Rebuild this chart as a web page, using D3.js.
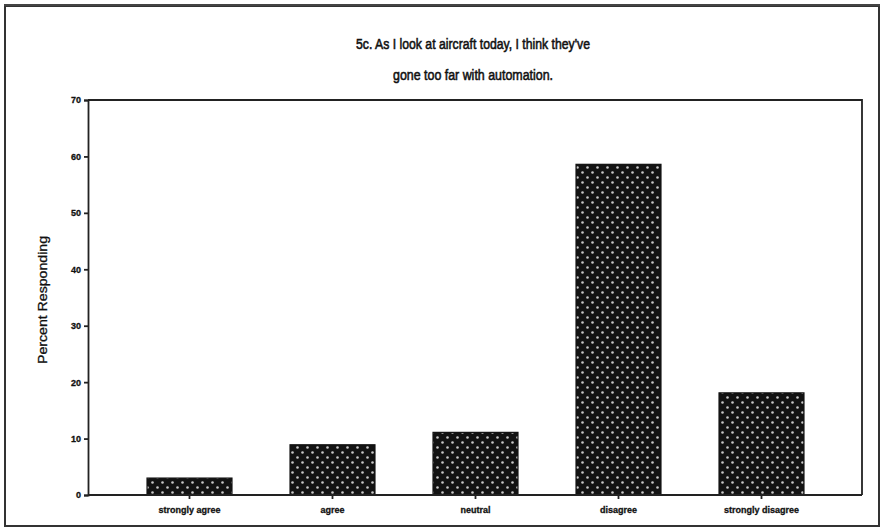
<!DOCTYPE html>
<html>
<head>
<meta charset="utf-8">
<script src="https://cdn.jsdelivr.net/npm/d3@7"></script>
<style>
  html, body { margin: 0; padding: 0; background: #fff; }
  svg { display: block; }
</style>
</head>
<body>
<svg id="chart" width="882" height="530"></svg>
<script>
const titleLines = ["5c. As I look at aircraft today, I think they've", "gone too far with automation."];
const categories = ["strongly agree", "agree", "neutral", "disagree", "strongly disagree"];
const percents = [3.0, 8.9, 11.1, 58.6, 18.1];
const yTicks = [0, 10, 20, 30, 40, 50, 60, 70];
const yLabel = "Percent Responding";

const svg = d3.select("#chart");
const plot = { left: 88, right: 862, top: 100, bottom: 495 };

// pattern for bars: black with light dots
const defs = svg.append("defs");
const pat = defs.append("pattern")
  .attr("id", "dots").attr("patternUnits", "userSpaceOnUse")
  .attr("width", 10).attr("height", 10);
pat.append("rect").attr("width", 10).attr("height", 10).attr("fill", "#131313");
pat.append("circle").attr("cx", 2.5).attr("cy", 2.5).attr("r", 1.3).attr("fill", "#c8c8c8");
pat.append("circle").attr("cx", 7.5).attr("cy", 7.5).attr("r", 1.3).attr("fill", "#c8c8c8");

// outer frame
svg.append("rect").attr("x", 5).attr("y", 6).attr("width", 874).attr("height", 520)
  .attr("fill", "none").attr("stroke", "#333").attr("stroke-width", 2);
svg.append("line").attr("x1", 4).attr("x2", 880).attr("y1", 5).attr("y2", 5)
  .attr("stroke", "#444").attr("stroke-width", 2);

// title
svg.selectAll("text.title").data(titleLines).enter().append("text")
  .attr("class", "title")
  .attr("x", 473).attr("y", (d, i) => 49 + i * 31)
  .attr("text-anchor", "middle")
  .attr("font-family", "Liberation Sans, Arial, sans-serif")
  .attr("font-size", 15.5)
  .attr("fill", "#111")
  .attr("stroke", "#111").attr("stroke-width", 0.6)
  .attr("textLength", (d, i) => i === 0 ? 234 : 160)
  .attr("lengthAdjust", "spacingAndGlyphs")
  .text(d => d);

const y = d3.scaleLinear().domain([0, 70]).range([plot.bottom, plot.top]);
const x = d3.scaleBand().domain(categories).range([118, 833]).paddingInner(0.406).paddingOuter(0.203);

// bars
svg.append("g").selectAll("rect").data(percents).enter().append("rect")
  .attr("x", (d, i) => x(categories[i]))
  .attr("y", d => y(d))
  .attr("width", x.bandwidth())
  .attr("height", d => y(0) - y(d))
  .attr("fill", "url(#dots)")
  .attr("stroke", "#111").attr("stroke-width", 1.2);

// plot frame: top and right
svg.append("path")
  .attr("d", `M${plot.left},${plot.top}H${plot.right}V${plot.bottom}`)
  .attr("fill", "none").attr("stroke", "#222").attr("stroke-width", 1.8);

// y axis
const yAxis = svg.append("g").attr("transform", `translate(${plot.left},0)`)
  .call(d3.axisLeft(y).tickValues(yTicks).tickSize(4).tickPadding(3).tickFormat(d3.format("d")));
yAxis.select(".domain").attr("stroke", "#222").attr("stroke-width", 1.8);
yAxis.selectAll(".tick line").attr("stroke", "#222").attr("stroke-width", 1.8);
yAxis.selectAll(".tick text")
  .attr("font-family", "Liberation Sans, Arial, sans-serif")
  .attr("font-size", 9).attr("font-weight", "bold").attr("fill", "#111")
  .attr("stroke", "#111").attr("stroke-width", 0.3);

// x axis
const xAxis = svg.append("g").attr("transform", `translate(0,${plot.bottom})`)
  .call(d3.axisBottom(x).tickSize(4).tickPadding(8));
xAxis.select(".domain").remove();
xAxis.selectAll(".tick line").attr("stroke", "#222").attr("stroke-width", 1.8);
xAxis.selectAll(".tick text")
  .attr("font-family", "Liberation Sans, Arial, sans-serif")
  .attr("font-size", 9).attr("font-weight", "bold").attr("fill", "#111")
  .attr("stroke", "#111").attr("stroke-width", 0.3);
svg.append("line").attr("x1", plot.left).attr("x2", plot.right)
  .attr("y1", plot.bottom).attr("y2", plot.bottom)
  .attr("stroke", "#222").attr("stroke-width", 1.8);

// y label
svg.append("text")
  .attr("transform", "translate(47,300) rotate(-90)")
  .attr("text-anchor", "middle")
  .attr("font-family", "Liberation Sans, Arial, sans-serif")
  .attr("font-size", 12)
  .attr("fill", "#111")
  .attr("stroke", "#111").attr("stroke-width", 0.3)
  .attr("textLength", 128).attr("lengthAdjust", "spacingAndGlyphs")
  .text(yLabel);
</script>
</body>
</html>
